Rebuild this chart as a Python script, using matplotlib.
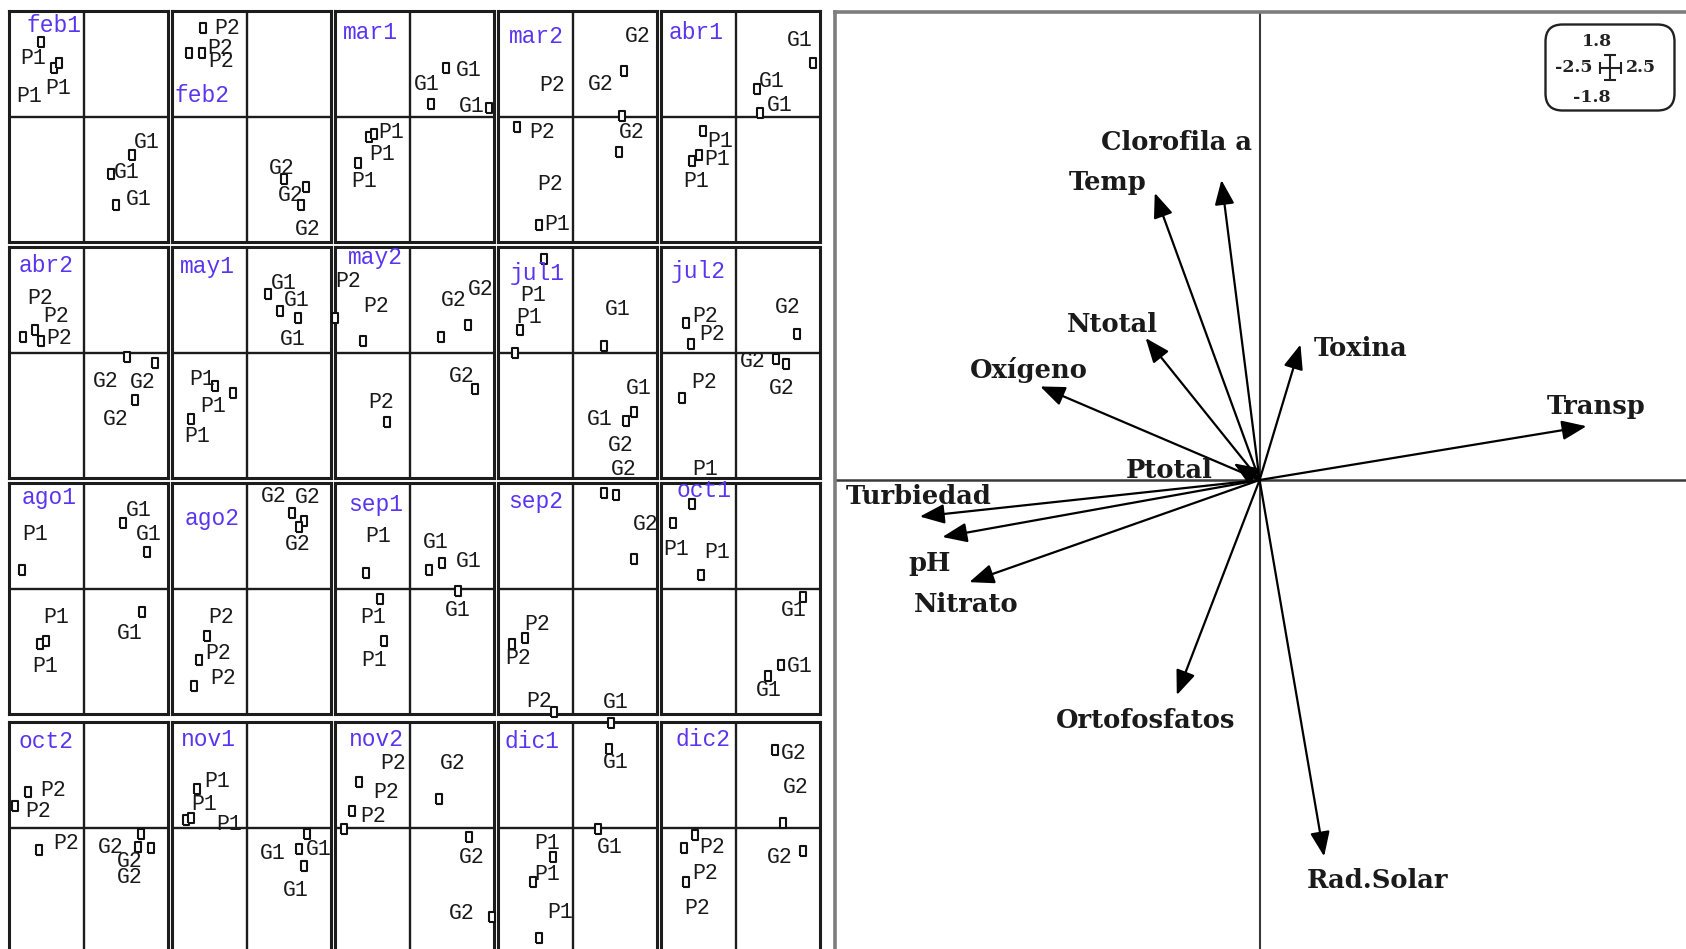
import matplotlib
matplotlib.use("Agg")
import matplotlib.pyplot as plt
from matplotlib.patches import FancyBboxPatch

# ---------------------------------------------------------------- data
panel_names = ["feb1", "feb2", "mar1", "mar2", "abr1",
               "abr2", "may1", "may2", "jul1", "jul2",
               "ago1", "ago2", "sep1", "sep2", "oct1",
               "oct2", "nov1", "nov2", "dic1", "dic2"]

# sample coordinates in each partial plot
point_x = [
    [-1.34, -0.94, -0.79, 1.52, 0.85, 1.01],
    [-1.37, -1.82, -1.42, 1.17, 1.86, 1.71],
    [-1.29, -1.13, -1.64, 1.12, 0.66, 2.49],
    [1.60, 1.55, 1.45, -1.77, -1.06],
    [2.41, 0.65, 0.75, -1.03, -1.37, -1.16],
    [-1.91, -1.54, -1.35, 1.34, 2.23, 1.60],
    [0.67, 1.04, 1.59, -1.01, -0.45, -1.77],
    [-2.36, -1.49, -0.73, 0.97, 1.83, 2.04],
    [-0.90, -1.67, -1.82, 0.98, 1.93, 1.66],
    [-1.58, -1.42, -1.69, 1.93, 1.26, 1.57],
    [-1.96, -1.38, -1.20, 1.22, 1.97, 1.83],
    [1.41, 1.80, 1.64, -1.27, -1.51, -1.67],
    [-1.38, -0.94, -0.81, 0.61, 1.02, 1.52],
    [0.97, 1.35, 1.92, -1.91, -1.51, -0.60],
    [-1.37, -1.99, -1.11, 2.10, 1.42, 1.02],
    [-1.75, -2.17, -1.41, 1.78, 1.69, 2.10],
    [-1.56, -1.93, -1.77, 1.88, 1.64, 1.79],
    [-1.59, -1.83, -2.07, 0.91, 1.86, 2.59],
    [1.19, 1.14, 0.80, -0.64, -1.25, -1.06],
    [1.23, 1.49, 2.10, -1.29, -1.64, -1.58],
]
point_y = [
    [1.16, 0.76, 0.84, -0.60, -0.89, -1.38],
    [1.38, 0.99, 0.99, -0.97, -1.09, -1.37],
    [-0.32, -0.27, -0.72, 0.76, 0.20, 0.14],
    [0.72, 0.02, -0.54, -0.16, -1.69],
    [0.84, 0.43, 0.06, -0.22, -0.69, -0.60],
    [0.25, 0.35, 0.18, -0.07, -0.16, -0.74],
    [0.92, 0.66, 0.55, -0.51, -0.63, -1.03],
    [0.54, 0.18, -1.07, 0.25, 0.44, -0.56],
    [1.46, 0.36, 0.00, 0.10, -0.92, -1.06],
    [0.47, 0.14, -0.71, 0.30, -0.10, -0.18],
    [0.29, -0.86, -0.81, 1.02, 0.58, -0.36],
    [1.18, 1.06, 0.96, -0.74, -1.11, -1.52],
    [0.25, -0.16, -0.81, 0.29, 0.40, -0.04],
    [1.50, 1.46, 0.47, -0.86, -0.77, -1.92],
    [1.32, 1.02, 0.22, -0.12, -1.18, -1.36],
    [0.56, 0.34, -0.35, -0.10, -0.30, -0.31],
    [0.60, 0.12, 0.16, -0.10, -0.33, -0.60],
    [0.71, 0.26, -0.02, 0.45, -0.14, -1.39],
    [1.63, 1.23, -0.02, -0.46, -0.84, -1.71],
    [1.22, 0.08, -0.36, -0.11, -0.32, -0.84],
]

# site labels and where they sit in each partial plot
label_text = [
    ["P1", "P1", "P1", "G1", "G1", "G1"],
    ["P2", "P2", "P2", "G2", "G2", "G2"],
    ["P1", "P1", "P1", "G1", "G1", "G1"],
    ["G2", "G2", "G2", "P2", "P2", "P2", "P1"],
    ["G1", "G1", "G1", "P1", "P1", "P1"],
    ["P2", "P2", "P2", "G2", "G2", "G2"],
    ["G1", "G1", "G1", "P1", "P1", "P1"],
    ["P2", "P2", "P2", "G2", "G2", "G2"],
    ["P1", "P1", "G1", "G1", "G1", "G2", "G2"],
    ["P2", "P2", "P2", "P1", "G2", "G2", "G2"],
    ["P1", "P1", "P1", "G1", "G1", "G1"],
    ["G2", "G2", "G2", "P2", "P2", "P2"],
    ["P1", "P1", "P1", "G1", "G1", "G1"],
    ["G2", "P2", "P2", "P2", "G1"],
    ["P1", "P1", "G1", "G1", "G1"],
    ["P2", "P2", "P2", "G2", "G2", "G2"],
    ["P1", "P1", "P1", "G1", "G1", "G1"],
    ["P2", "P2", "P2", "G2", "G2", "G2"],
    ["G1", "G1", "P1", "P1", "P1"],
    ["G2", "G2", "G2", "P2", "P2", "P2"],
]
label_x = [
    [-1.59, -1.72, -0.83, 1.97, 1.34, 1.71],
    [-0.64, -0.85, -0.80, 1.09, 1.37, 1.90],
    [-0.61, -0.87, -1.44, 1.86, 0.54, 1.94],
    [2.02, 0.88, 1.86, -0.65, -0.98, -0.72, -0.51],
    [2.01, 1.12, 1.38, -0.50, -0.61, -1.26],
    [-1.38, -0.88, -0.78, 0.69, 1.86, 1.01],
    [1.16, 1.56, 1.44, -1.42, -1.06, -1.56],
    [-1.94, -1.07, -0.91, 1.36, 2.22, 1.63],
    [-1.25, -1.37, 1.39, 2.08, 0.85, 1.50, 1.60],
    [-0.97, -0.76, -1.01, -0.97, 1.64, 0.54, 1.44],
    [-1.54, -0.88, -1.23, 1.71, 2.02, 1.45],
    [0.83, 1.90, 1.59, -0.80, -0.90, -0.75],
    [-1.00, -1.15, -1.13, 0.82, 1.86, 1.49],
    [2.30, -1.12, -1.72, -1.06, 1.35],
    [-1.89, -0.58, 1.80, 1.99, 1.02],
    [-0.97, -1.44, -0.57, 0.85, 1.45, 1.45],
    [-0.93, -1.35, -0.56, 0.81, 2.24, 1.54],
    [-0.54, -0.75, -1.15, 1.33, 1.94, 1.63],
    [1.35, 1.14, -0.83, -0.83, -0.41],
    [1.83, 1.89, 1.38, -0.76, -0.97, -1.22],
]
label_y = [
    [0.91, 0.32, 0.45, -0.40, -0.87, -1.28],
    [1.37, 1.07, 0.86, -0.80, -1.22, -1.76],
    [-0.25, -0.59, -1.01, 0.73, 0.50, 0.16],
    [1.26, 0.50, -0.24, 0.49, -0.24, -1.05, -1.68],
    [1.19, 0.55, 0.17, -0.38, -0.67, -1.00],
    [0.84, 0.56, 0.23, -0.45, -0.46, -1.04],
    [1.08, 0.81, 0.21, -0.41, -0.84, -1.30],
    [1.11, 0.72, -0.77, 0.82, 0.99, -0.37],
    [0.89, 0.55, 0.67, -0.55, -1.04, -1.44, -1.81],
    [0.56, 0.29, -0.46, -1.81, 0.71, -0.14, -0.55],
    [0.85, -0.45, -1.21, 1.22, 0.85, -0.69],
    [1.44, 1.43, 0.69, -0.45, -1.01, -1.40],
    [0.82, -0.45, -1.11, 0.72, 0.43, -0.34],
    [1.01, -0.56, -1.09, -1.76, -1.77],
    [0.61, 0.56, -0.34, -1.21, -1.59],
    [0.59, 0.25, -0.25, -0.31, -0.53, -0.77],
    [0.72, 0.37, 0.06, -0.40, -0.33, -0.97],
    [1.01, 0.55, 0.17, 1.01, -0.46, -1.34],
    [1.02, -0.30, -0.24, -0.72, -1.32],
    [1.16, 0.63, -0.46, -0.30, -0.71, -1.25],
]
name_x = [-0.95, -1.42, -1.26, -1.16, -1.24, -1.19, -1.25, -1.10, -1.14, -1.20,
          -1.09, -1.11, -1.07, -1.19, -1.01, -1.19, -1.22, -1.07, -1.28, -1.03]
name_y = [1.42, 0.33, 1.32, 1.25, 1.31, 1.36, 1.34, 1.49, 1.23, 1.27,
          1.42, 1.10, 1.31, 1.36, 1.53, 1.34, 1.37, 1.37, 1.34, 1.37]

# environmental variables (correlation circle)
var_names = ["Clorofila a", "Temp", "Ntotal", "Oxígeno", "Toxina", "Transp",
             "Ptotal", "Turbiedad", "pH", "Nitrato", "Ortofosfatos", "Rad.Solar"]
var_x = [-0.355, -0.975, -1.06, -2.04, 0.38, 3.04, -0.24, -3.16, -2.95, -2.70, -0.77, 0.60]
var_y = [2.79, 2.67, 1.32, 0.87, 1.26, 0.50, 0.155, -0.34, -0.53, -0.95, -2.00, -3.50]
var_label_x = [-0.77, -1.41, -1.37, -2.15, 0.94, 3.13, -0.84, -3.17, -3.07, -2.73, -1.06, 1.10]
var_label_y = [3.14, 2.77, 1.45, 1.02, 1.22, 0.68, 0.09, -0.155, -0.78, -1.16, -2.24, -3.72]

# extent of the partial plots, shown in the scale box
scale_x = 2.5
scale_y = 1.8

# ---------------------------------------------------------------- figure
W, H = 1686, 949
fig = plt.figure(figsize=(W / 100, H / 100), dpi=100)
fig.patch.set_facecolor("white")

col_left = [9, 172, 335, 498, 661]
row_top = [11, 247, 483, 722]
pw, ph = 159, 231

mono = "Liberation Mono"
name_color = "#5a35f0"
box_marker = [(-0.33, -0.5), (0.33, -0.5), (0.33, 0.5), (-0.33, 0.5), (-0.33, -0.5)]


def fig_rect(left, top, width, height):
    return [left / W, 1 - (top + height) / H, width / W, height / H]


for k, name in enumerate(panel_names):
    r, c = divmod(k, 5)
    ax = fig.add_axes(fig_rect(col_left[c], row_top[r], pw, ph))
    ax.set_xlim(-2.36, 2.64)
    ax.set_ylim(-1.95, 1.65)
    ax.set_xticks([])
    ax.set_yticks([])
    ax.patch.set_alpha(0)
    for sp in ax.spines.values():
        sp.set_linewidth(2.2)
        sp.set_color("#1c1c1c")
    ax.axhline(0, color="#1c1c1c", lw=1.7, zorder=1)
    ax.axvline(0, color="#1c1c1c", lw=1.7, zorder=1)
    ax.plot(point_x[k], point_y[k], linestyle="none", marker=box_marker,
            ms=6.5, mfc="white", mec="#111111", mew=1.5, clip_on=False, zorder=5)
    for t, x, y in zip(label_text[k], label_x[k], label_y[k]):
        ax.text(x, y, t, ha="center", va="center", fontsize=15.5, family=mono,
                color="#1a1a1a", zorder=6)
    ax.text(name_x[k], name_y[k], name, ha="center", va="center", fontsize=16.5,
            family=mono, color=name_color, zorder=6)

# ---------------------------------------------------------------- arrows panel
px_per_unit = 107.53
ox, oy = 1259.6, 480.0
r_left, r_top, r_right, r_bottom = 835, 12, 1700, 960
axr = fig.add_axes(fig_rect(r_left, r_top, r_right - r_left, r_bottom - r_top))
axr.set_xlim((r_left - ox) / px_per_unit, (r_right - ox) / px_per_unit)
axr.set_ylim((oy - r_bottom) / px_per_unit, (oy - r_top) / px_per_unit)
axr.set_xticks([])
axr.set_yticks([])
for side, sp in axr.spines.items():
    sp.set_linewidth(2.6)
    sp.set_color("#7d7d7d")
axr.axhline(0, color="#3a3a3a", lw=1.8, zorder=1)
axr.axvline(0, color="#3a3a3a", lw=1.5, zorder=1)

for vx, vy in zip(var_x, var_y):
    axr.annotate("", xy=(vx, vy), xytext=(0, 0),
                 arrowprops=dict(arrowstyle="-|>,head_length=0.75,head_width=0.3",
                                 mutation_scale=20, color="black", lw=1.6,
                                 shrinkA=0, shrinkB=0))
for t, x, y in zip(var_names, var_label_x, var_label_y):
    axr.text(x, y, t, ha="center", va="center", fontsize=18.5,
             family="DejaVu Serif", weight="bold", color="#1a1a1a")

# scale box
lax = fig.add_axes(fig_rect(1544, 23, 132, 89))
lax.set_xlim(0, 132)
lax.set_ylim(0, 89)
lax.axis("off")
lax.add_patch(FancyBboxPatch((1.5, 1.5), 129, 86,
                             boxstyle="round,pad=0,rounding_size=17",
                             fc="white", ec="#222222", lw=1.7))
cx, cy = 66, 44.5
lax.errorbar([cx], [cy], xerr=[scale_x * 4.2], yerr=[scale_y * 7.0],
             fmt="none", ecolor="#222222", elinewidth=1.5, capsize=4, capthick=1.5)
sfont = dict(fontsize=12.5, family="DejaVu Serif", weight="bold", color="#222222",
             ha="center", va="center")
lax.text(53, 71, f"{scale_y:.1f}", **sfont)
lax.text(47.5, 14, f"-{scale_y:.1f}", **sfont)
lax.text(30, 44.5, f"-{scale_x:.1f}", **sfont)
lax.text(97, 44.5, f"{scale_x:.1f}", **sfont)

fig.savefig("out.png", dpi=100, facecolor="white")
